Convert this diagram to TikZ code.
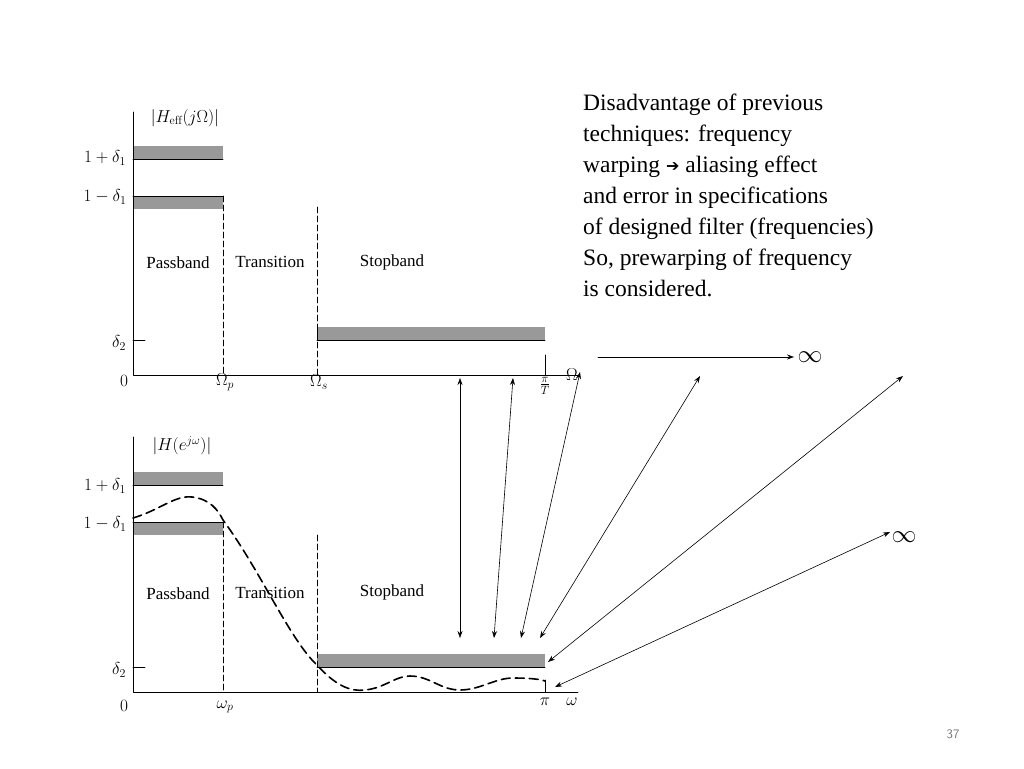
\documentclass[tikz,border=0pt]{standalone}
\usepackage{fontspec}
\newfontfamily\notefont{Liberation Serif}
\newfontfamily\symfont{DejaVu Sans}
\usetikzlibrary{arrows.meta}
\tikzset{band/.style={fill=black!40},
  edge/.style={line width=0.8pt},
  guide/.style={dash pattern=on 6pt off 3pt,line width=0.6pt},
  resp/.style={dash pattern=on 9pt off 5pt,line width=1.6pt},
  lbl/.style={font=\notefont\fontsize{17}{19}\selectfont},
  pt/.style={<->,line width=0.6pt}}
\begin{document}
\begin{tikzpicture}[line cap=round,line join=round,>={Stealth[length=7pt,width=5pt]},x=1pt,y=-1pt]
\useasboundingbox (0,0) rectangle (1024,768);
% upper plot
\fill[band] (133,146) rectangle (223,159);
\fill[band] (133,196) rectangle (223,209);
\fill[band] (317,327) rectangle (545,340);
\draw[edge] (133,112) -- (133,375) -- (578,375);
\draw[edge] (133,159) -- (223,159);
\draw[edge] (133,196) -- (223,196);
\draw[edge] (317,340) -- (545,340) (317,327) -- (317,340);
\draw[edge] (133,340) -- (145,340) (545,355) -- (545,375);
\draw[guide] (223,196) -- (223,375);
\draw[guide] (317,207) -- (317,375);
\node[lbl] (h1) at (185,118) {$|H_{\mathrm{eff}}(j\Omega)|$};
\node[lbl] (a1) at (105,158) {$1+\delta_1$};
\node[lbl] (b1) at (105,197) {$1-\delta_1$};
\node[lbl] (d1) at (119,343) {$\delta_2$};
\node[lbl] (z1) at (124,381) {$0$};
\node[lbl] (wp1) at (225,382) {$\Omega_p$};
\node[lbl] (ws1) at (319,382) {$\Omega_s$};
\node[lbl] (pi1) at (545,386) {$\frac{\pi}{T}$};
\node[lbl] (w1) at (572,375) {$\Omega$};
\node[lbl] (p1) at (178,263) {Passband};
\node[lbl] (t1) at (270,262) {Transition};
\node[lbl] (s1) at (392,262) {Stopband};
% lower plot
\fill[band] (133,472) rectangle (223,485);
\fill[band] (133,522) rectangle (223,535);
\fill[band] (317,654) rectangle (545,667);
\draw[edge] (133,437) -- (133,692) -- (578,692);
\draw[edge] (133,485) -- (223,485);
\draw[edge] (133,522) -- (223,522);
\draw[edge] (317,667) -- (545,667);
\draw[edge] (133,667) -- (145,667) (545,680) -- (545,692);
\draw[guide] (223,522) -- (223,692);
\draw[guide] (317,535) -- (317,692);
\draw[resp] (133,518) .. controls (160,510) and (175,495) .. (192,497)
  .. controls (210,499) and (218,510) .. (223,520)
  .. controls (260,570) and (290,640) .. (317,665)
  .. controls (335,685) and (350,692) .. (365,690)
  .. controls (385,688) and (395,676) .. (410,676)
  .. controls (430,676) and (440,690) .. (460,690)
  .. controls (480,690) and (495,678) .. (513,678)
  .. controls (528,678) and (540,679) .. (545,681);
\node[lbl] (h2) at (182,446) {$|H(e^{j\omega})|$};
\node[lbl] (a2) at (105,486) {$1+\delta_1$};
\node[lbl] (b2) at (105,524) {$1-\delta_1$};
\node[lbl] (d2) at (119,670) {$\delta_2$};
\node[lbl] (z2) at (124,706) {$0$};
\node[lbl] (wp2) at (225,707) {$\omega_p$};
\node[lbl] (pi2) at (545,702) {$\pi$};
\node[lbl] (w2) at (572,702) {$\omega$};
\node[lbl] (p2) at (178,594) {Passband};
\node[lbl] (t2) at (270,593) {Transition};
\node[lbl] (s2) at (392,592) {Stopband};
% mapping arrows
\coordinate (u1) at (460,378); \coordinate (l1) at (460,638);
\coordinate (u2) at (513,378); \coordinate (l2) at (494,638);
\coordinate (u3) at (580,372); \coordinate (l3) at (521,638);
\coordinate (u4) at (700,376); \coordinate (l4) at (540,638);
\coordinate (u5) at (903,376); \coordinate (l5) at (548,662);
\coordinate (u6) at (890,532); \coordinate (l6) at (555,687);
\foreach \k in {1,...,6} \draw[pt] (u\k) -- (l\k);
\node[font=\fontsize{26}{26}\selectfont] (inf1) at (810,357) {$\infty$};
\node[font=\fontsize{26}{26}\selectfont] (inf2) at (904,537) {$\infty$};
\coordinate (hs) at (598,357);
\draw[->,line width=0.6pt] (hs) -- (inf1.west);
% note
\node[anchor=north west,align=left,font=\notefont\fontsize{23.5}{31}\selectfont,inner sep=0pt] (note) at (583,94)
 {Disadvantage of previous\\techniques: frequency\\warping {\symfont\fontsize{16}{16}\selectfont\raisebox{1pt}{➔}} aliasing effect\\and error in specifications\\of designed filter (frequencies)\\So, prewarping of frequency\\is considered.};
\node[font=\sffamily\fontsize{13}{13}\selectfont,text=black!55] (pg) at (953,734) {37};
\end{tikzpicture}
\end{document}
